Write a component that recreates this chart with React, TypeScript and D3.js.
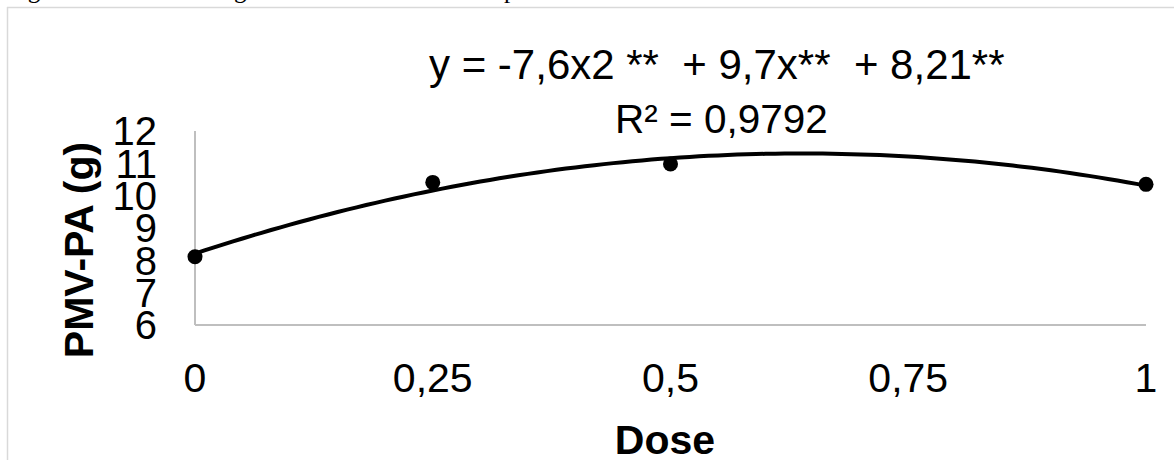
import React from "react";
import { scaleLinear, line, range, curveLinear } from "d3";

// observed means (PMV-PA, g) per dose
const doses = [0, 0.25, 0.5, 1];
const pmv = [8.11, 10.41, 10.98, 10.35];

// fitted quadratic shown in the chart: a*x^2 + b*x + c
const coefs = [-7.6, 9.7, 8.21];

const xTicks = [0, 0.25, 0.5, 0.75, 1];
const xTickLabels = ["0", "0,25", "0,5", "0,75", "1"];
const yTicks = [6, 7, 8, 9, 10, 11, 12];

const caption = "Figura 4. Análise de regressão da massa verde da parte aérea";
const eqText = "y = -7,6x2 **  + 9,7x**  + 8,21**";
const r2Text = "R² = 0,9792";

const W = 1174;
const H = 460;
const FONT = "Liberation Sans, Arial, sans-serif";

function App() {
  const x = scaleLinear().domain([0, 1]).range([195, 1146]);
  const y = scaleLinear().domain([6, 12]).range([325, 131]);

  const fit = (v: number) => coefs[0] * v * v + coefs[1] * v + coefs[2];
  const curvePts = range(0, 1.0001, 0.01).map((v) => [v, fit(v)] as [number, number]);
  const trend = line<[number, number]>()
    .x((d) => x(d[0]))
    .y((d) => y(d[1]))
    .curve(curveLinear)(curvePts);

  return (
    <svg
      width={W}
      height={H}
      style={{ position: "absolute", left: 0, top: 0, background: "#fff" }}
    >
      {/* caption, cut at the top edge */}
      <text
        x={7}
        y={-2}
        fontFamily="Liberation Serif, Times New Roman, serif"
        fontSize={25}
        fill="#000"
      >
        {caption}
      </text>

      {/* chart frame */}
      <line x1={7} x2={W} y1={7.5} y2={7.5} stroke="#d9d9d9" strokeWidth={1.5} />
      <line x1={7.5} x2={7.5} y1={7} y2={H} stroke="#d9d9d9" strokeWidth={1.5} />

      {/* axes */}
      <line x1={x(0)} x2={x(1)} y1={y(6)} y2={y(6)} stroke="#bfbfbf" strokeWidth={2} />
      <line x1={x(0)} x2={x(0)} y1={y(6)} y2={y(12)} stroke="#bfbfbf" strokeWidth={2} />

      {/* y tick labels */}
      {yTicks.map((t) => (
        <text
          key={t}
          x={157}
          y={y(t)}
          dy="0.36em"
          textAnchor="end"
          fontFamily={FONT}
          fontSize={40}
          fill="#000"
        >
          {t}
        </text>
      ))}

      {/* x tick labels */}
      {xTicks.map((t, i) => (
        <text
          key={t}
          x={x(t)}
          y={392}
          textAnchor="middle"
          fontFamily={FONT}
          fontSize={41}
          fill="#000"
        >
          {xTickLabels[i]}
        </text>
      ))}

      {/* axis titles */}
      <text
        transform="translate(93,250) rotate(-90)"
        textAnchor="middle"
        fontFamily={FONT}
        fontWeight="bold"
        fontSize={41}
        fill="#000"
      >
        PMV-PA (g)
      </text>
      <text
        x={665}
        y={454}
        textAnchor="middle"
        fontFamily={FONT}
        fontWeight="bold"
        fontSize={41}
        fill="#000"
      >
        Dose
      </text>

      {/* trend line */}
      <path d={trend || ""} fill="none" stroke="#000" strokeWidth={4} />

      {/* points */}
      {doses.map((d, i) => (
        <circle key={d} cx={x(d)} cy={y(pmv[i])} r={7.5} fill="#000" />
      ))}

      {/* equation */}
      <text x={429} y={79} fontFamily={FONT} fontSize={42} fill="#000" style={{ whiteSpace: "pre" }}>
        {eqText}
      </text>
      <text x={615} y={133} fontFamily={FONT} fontSize={40.5} fill="#000">
        {r2Text}
      </text>
    </svg>
  );
}

export default App;
